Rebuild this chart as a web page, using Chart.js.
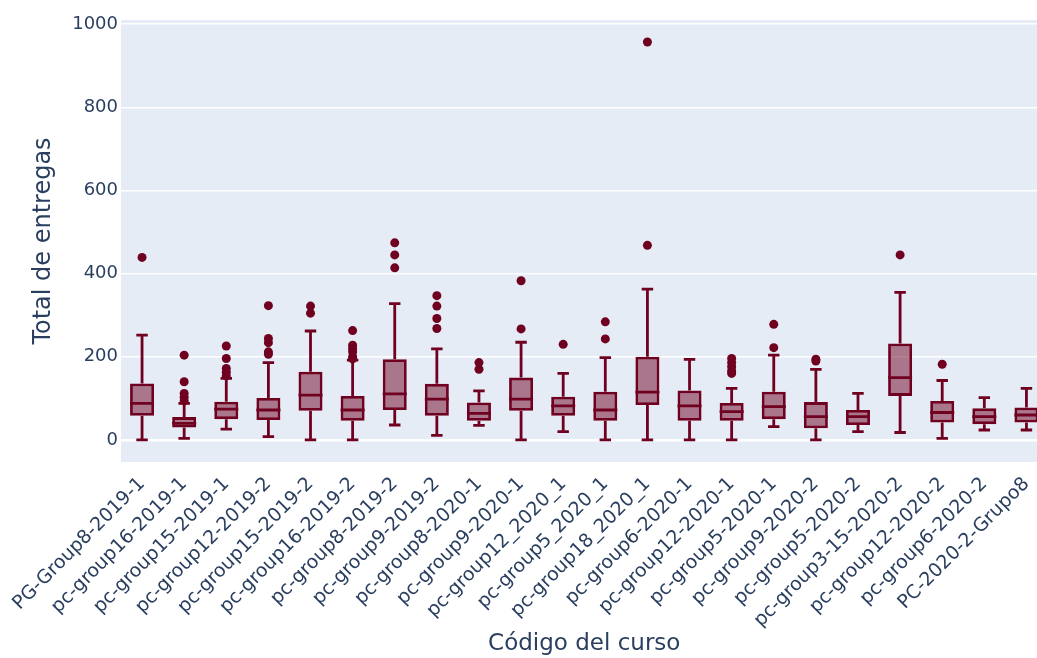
<!DOCTYPE html>
<html>
<head>
<meta charset="utf-8">
<script src="https://cdn.jsdelivr.net/npm/chart.js@4/dist/chart.umd.min.js"></script>
<style>
  html, body { margin: 0; padding: 0; overflow: hidden; background: #ffffff; }
  #wrap { width: 1052px; height: 658px; position: relative; }
</style>
</head>
<body>
<div id="wrap"><canvas id="chart" width="1052" height="658"></canvas></div>
<script>
// Course codes along the x axis
const courses = [
  'PG-Group8-2019-1', 'pc-group16-2019-1', 'pc-group15-2019-1', 'pc-group12-2019-2',
  'pc-group15-2019-2', 'pc-group16-2019-2', 'pc-group8-2019-2', 'pc-group9-2019-2',
  'pc-group8-2020-1', 'pc-group9-2020-1', 'pc-group12_2020_1', 'pc-group5_2020_1',
  'pc-group18_2020_1', 'pc-group6-2020-1', 'pc-group12-2020-1', 'pc-group5-2020-1',
  'pc-group9-2020-2', 'pc-group5-2020-2', 'pc-group3-15-2020-2', 'pc-group12-2020-2',
  'pc-group6-2020-2', 'PC-2020-2-Grupo8'
];

// Box statistics of total submissions per course
const lowerFence = [0, 4, 26, 8, 0, 0, 36, 11, 35, 0, 20, 0, 0, 0, 0, 32, 0, 20, 18, 4, 24, 24];
const q1         = [58, 30, 50, 48, 70, 46, 72, 58, 46, 70, 58, 46, 84, 46, 46, 50, 28, 36, 106, 42, 38, 42];
const median     = [88, 40, 74, 72, 108, 72, 111, 98, 64, 98, 82, 72, 115, 82, 68, 80, 56, 56, 150, 66, 56, 60];
const q3         = [136, 55, 92, 101, 164, 106, 194, 135, 90, 150, 104, 116, 200, 119, 89, 116, 91, 72, 232, 94, 76, 78];
const upperFence = [252, 88, 148, 186, 262, 192, 328, 219, 118, 235, 160, 198, 363, 194, 124, 204, 170, 112, 355, 143, 102, 124];

// Points beyond the whiskers
const outliers = [
  [439],
  [204, 140, 112, 103, 94],
  [226, 196, 172, 163, 154],
  [323, 244, 234, 212, 206],
  [322, 305],
  [263, 228, 220, 212, 200, 195],
  [474, 445, 414],
  [347, 322, 292, 268],
  [186, 170],
  [383, 267],
  [230],
  [284, 243],
  [957, 468],
  [],
  [196, 186, 176, 166, 160],
  [278, 222],
  [194, 190],
  [],
  [445],
  [182],
  [],
  []
];

// Y axis tick values
const yTicks = [0, 200, 400, 600, 800, 1000];

const LINE = 'rgb(112,0,32)';
const FILL = 'rgba(112,0,32,0.5)';
const TEXT = '#2a3f5f';
const FONT = 'DejaVu Sans';
const STROKE = 2.8;

// Plot background, whiskers, caps and median lines
const boxExtras = {
  id: 'boxExtras',
  beforeDraw(chart) {
    const { ctx, chartArea: a } = chart;
    ctx.save();
    ctx.fillStyle = '#e5ecf6';
    ctx.fillRect(a.left, a.top, a.right - a.left, a.bottom - a.top);
    ctx.restore();
  },
  afterDatasetDraw(chart, args) {
    if (args.meta.type !== 'bar') return;
    const { ctx } = chart;
    const xs = chart.scales.x, ys = chart.scales.y;
    ctx.save();
    ctx.strokeStyle = LINE;
    ctx.lineWidth = STROKE;
    ctx.lineCap = 'butt';
    args.meta.data.forEach((bar, i) => {
      const x = xs.getPixelForValue(i);
      const w = bar.width;
      const cap = (w - STROKE) * 0.27;
      const yLo = ys.getPixelForValue(lowerFence[i]);
      const yQ1 = ys.getPixelForValue(q1[i]);
      const yMed = ys.getPixelForValue(median[i]);
      const yQ3 = ys.getPixelForValue(q3[i]);
      const yHi = ys.getPixelForValue(upperFence[i]);
      ctx.beginPath();
      // whiskers
      ctx.moveTo(x, yQ3); ctx.lineTo(x, yHi);
      ctx.moveTo(x, yQ1); ctx.lineTo(x, yLo);
      // caps
      ctx.moveTo(x - cap, yHi); ctx.lineTo(x + cap, yHi);
      ctx.moveTo(x - cap, yLo); ctx.lineTo(x + cap, yLo);
      // median
      ctx.moveTo(x - w / 2, yMed); ctx.lineTo(x + w / 2, yMed);
      ctx.stroke();
    });
    ctx.restore();
  }
};

const outlierPoints = outliers.flatMap((vals, i) => vals.map(v => ({ x: courses[i], y: v })));

new Chart(document.getElementById('chart'), {
  type: 'bar',
  data: {
    labels: courses,
    datasets: [
      {
        type: 'scatter',
        data: outlierPoints,
        backgroundColor: LINE,
        borderColor: LINE,
        pointRadius: 4.5,
        pointBorderWidth: 0
      },
      {
        type: 'bar',
        data: courses.map((_, i) => [q1[i], q3[i]]),
        backgroundColor: FILL,
        borderColor: LINE,
        borderWidth: STROKE,
        borderSkipped: false,
        barPercentage: 0.57,
        categoryPercentage: 1.0
      }
    ]
  },
  options: {
    responsive: false,
    devicePixelRatio: 1,
    animation: false,
    layout: { padding: { top: 20, right: 0, bottom: 0, left: 0 } },
    plugins: { legend: { display: false }, tooltip: { enabled: false } },
    scales: {
      x: {
        type: 'category',
        offset: true,
        grid: { display: false },
        border: { display: false },
        ticks: {
          color: TEXT,
          font: { family: FONT, size: 19 },
          minRotation: 45,
          maxRotation: 45,
          autoSkip: false,
          padding: 3
        },
        title: {
          display: true,
          text: 'Código del curso',
          color: TEXT,
          font: { family: FONT, size: 23 },
          padding: { top: 0, bottom: 0 }
        },
        afterFit(scale) { scale.height = 196; }
      },
      y: {
        min: -53,
        max: 1010,
        afterBuildTicks(scale) { scale.ticks = yTicks.map(v => ({ value: v })); },
        grid: {
          color: '#ffffff',
          lineWidth: c => (c.tick && c.tick.value === 0 ? 2.6 : 1.6),
          drawTicks: false
        },
        border: { display: false },
        ticks: {
          color: TEXT,
          font: { family: FONT, size: 18 },
          padding: 3,
          callback: v => String(v)
        },
        title: {
          display: true,
          text: 'Total de entregas',
          color: TEXT,
          font: { family: FONT, size: 24 },
          padding: { top: 29, bottom: 0 }
        },
        afterFit(scale) { scale.width = 121; }
      }
    }
  },
  plugins: [boxExtras]
});
</script>
</body>
</html>
